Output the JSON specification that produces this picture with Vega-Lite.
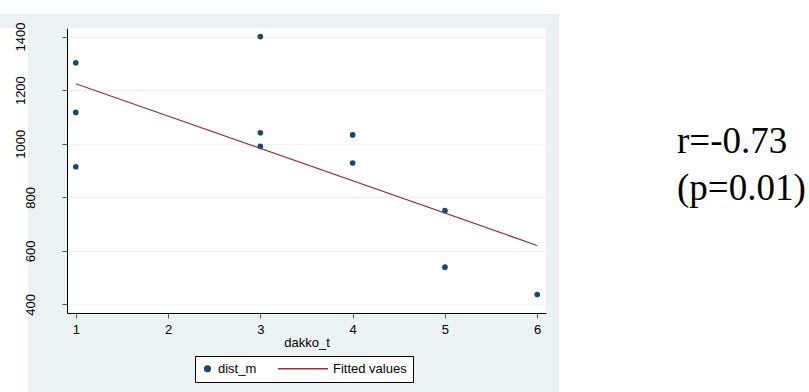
{
  "$schema": "https://vega.github.io/schema/vega-lite/v6.json",
  "background": "#EAF2F3",
  "padding": 0,
  "spacing": 0,
  "config": {"view": {"stroke": null}, "font": "Liberation Sans"},
  "datasets": {
    "points": [
      {"dakko_t": 1, "dist_m": 1302},
      {"dakko_t": 1, "dist_m": 1117},
      {"dakko_t": 1, "dist_m": 914},
      {"dakko_t": 3, "dist_m": 1400},
      {"dakko_t": 3, "dist_m": 1041},
      {"dakko_t": 3, "dist_m": 990},
      {"dakko_t": 4, "dist_m": 1033},
      {"dakko_t": 4, "dist_m": 928},
      {"dakko_t": 5, "dist_m": 750},
      {"dakko_t": 5, "dist_m": 539},
      {"dakko_t": 6, "dist_m": 437}
    ],
    "fit": [
      {"dakko_t": 1, "fitted": 1224},
      {"dakko_t": 6, "fitted": 620}
    ],
    "stats": [
      {"stat": ["r=-0.73", "(p=0.01)"]}
    ]
  },
  "hconcat": [
    {
      "spacing": 8,
      "vconcat": [
        {"width": 559, "height": 14, "view": {"fill": "white", "stroke": null}, "data": {"values": []}, "mark": "point"},
        {
          "bounds": "flush",
          "spacing": 39,
          "hconcat": [
            {"width": 28, "height": 364, "view": {"fill": "white", "stroke": null}, "data": {"values": []}, "mark": "point"},
            {
              "width": 479,
              "height": 285,
              "view": {"fill": "white", "stroke": null},
              "layer": [
                {
                  "data": {"name": "points"},
                  "mark": {"type": "point", "filled": true, "opacity": 1},
                  "encoding": {
                    "x": {
                      "field": "dakko_t", "type": "quantitative",
                      "scale": {"domain": [0.905, 6.095], "nice": false, "zero": false},
                      "axis": {
                        "values": [1, 2, 3, 4, 5, 6], "format": "d", "title": "dakko_t", "grid": false,
                        "tickSize": 5, "labelPadding": 5, "labelAngle": 0, "labelFlush": false,
                        "labelFontSize": 13, "labelColor": "black", "titleFontSize": 13,
                        "titleFontWeight": "normal", "titleColor": "black", "titlePadding": 0,
                        "domainColor": "black", "tickColor": "#555555"
                      }
                    },
                    "y": {
                      "field": "dist_m", "type": "quantitative",
                      "scale": {"domain": [368, 1432], "nice": false, "zero": false},
                      "axis": {
                        "values": [400, 600, 800, 1000, 1200, 1400], "format": "d", "title": null, "grid": true,
                        "gridColor": "#EAF2F3", "domainColor": "black", "tickColor": "#555555",
                        "tickSize": 5, "labelAngle": 270, "labelAlign": "center", "labelBaseline": "bottom",
                        "labelFlush": false,
                        "labelPadding": {"condition": {"test": "datum.value >= 1000", "value": 35}, "value": 25},
                        "labelFontSize": 13, "labelColor": "black"
                      }
                    },
                    "color": {
                      "datum": "dist_m",
                      "scale": {"domain": ["dist_m", "Fitted values"], "range": ["#1A476F", "#90353B"]},
                      "legend": {
                        "title": null, "orient": "none", "legendX": 195, "legendY": 356,
                        "direction": "horizontal", "fillColor": "white", "strokeColor": "black",
                        "padding": 6, "clipHeight": 13, "labelFontSize": 13, "labelColor": "black",
                        "labelOffset": 4, "columnPadding": 20, "cornerRadius": 0,
                        "encode": {"symbols": {"update": {
                          "stroke": {"signal": "datum.value === 'Fitted values' ? '#90353B' : '#1A476F'"},
                          "strokeWidth": {"signal": "datum.value === 'Fitted values' ? 1.2 : 0"}
                        }}}
                      }
                    },
                    "shape": {
                      "datum": "dist_m",
                      "scale": {"domain": ["dist_m", "Fitted values"], "range": ["circle", "stroke"]}
                    },
                    "size": {
                      "datum": "dist_m",
                      "scale": {"type": "point", "padding": 0, "domain": ["dist_m", "Fitted values"], "range": [32, 2500]}
                    }
                  }
                },
                {
                  "data": {"name": "fit"},
                  "mark": {"type": "line", "strokeWidth": 1.2},
                  "encoding": {
                    "x": {"field": "dakko_t", "type": "quantitative"},
                    "y": {"field": "fitted", "type": "quantitative"},
                    "color": {"datum": "Fitted values"}
                  }
                }
              ]
            }
          ]
        }
      ]
    },
    {
      "width": 250,
      "height": 392,
      "view": {"fill": "white", "stroke": null},
      "data": {"name": "stats"},
      "mark": {"type": "text", "font": "Liberation Serif", "fontSize": 37, "lineHeight": 47, "align": "left", "baseline": "alphabetic", "dx": -7, "dy": -43, "color": "black"},
      "encoding": {
        "text": {"field": "stat"}
      }
    }
  ]
}
